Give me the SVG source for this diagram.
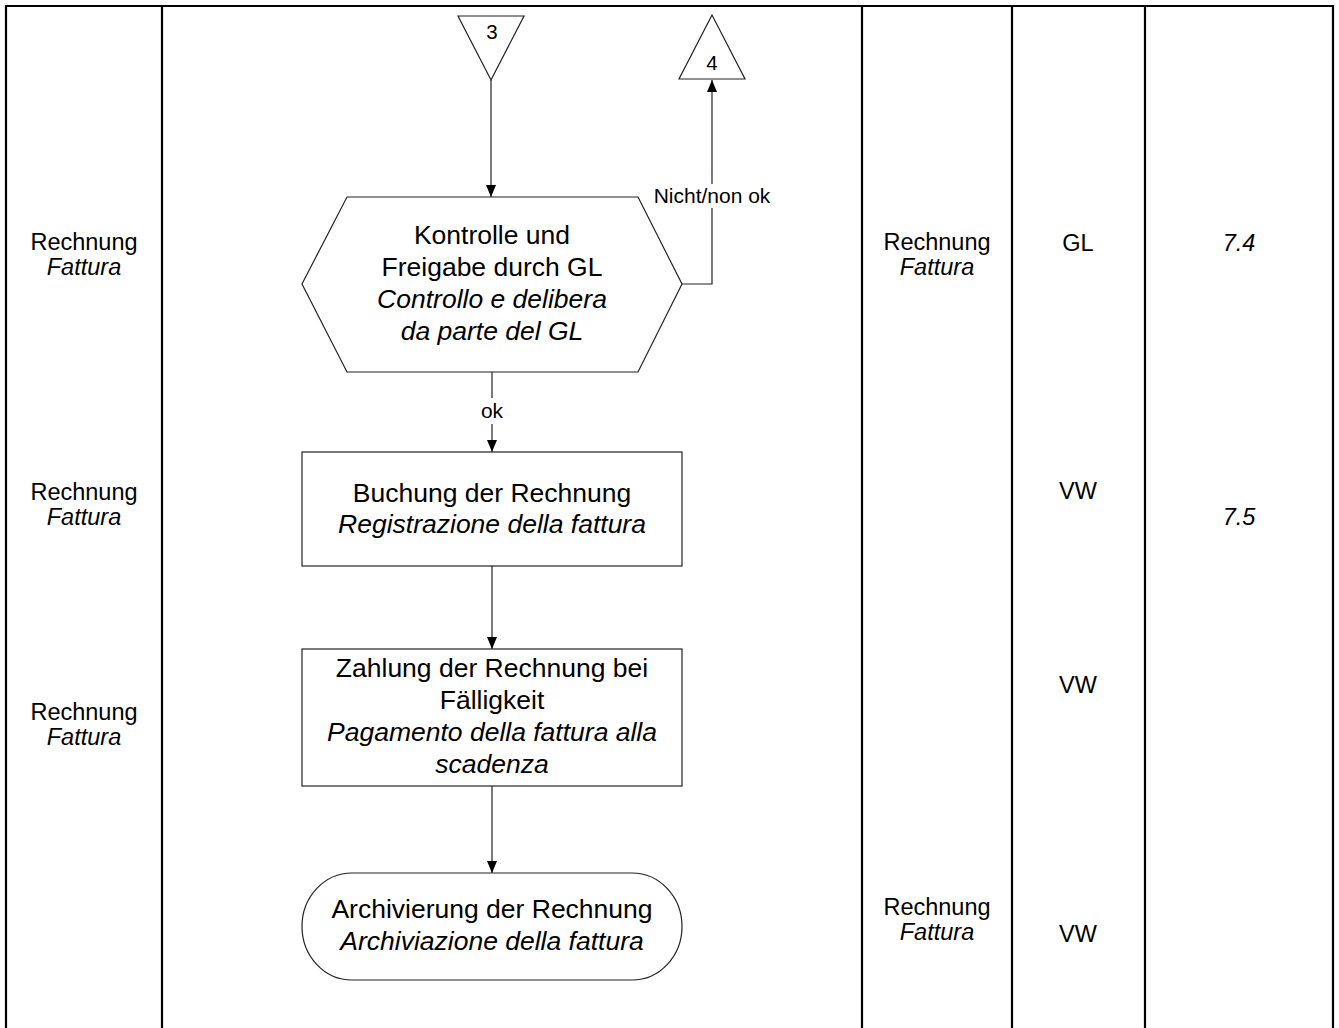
<svg xmlns="http://www.w3.org/2000/svg" width="1339" height="1028" viewBox="0 0 1339 1028">
<style>
  text { font-family: "Liberation Sans", Arial, sans-serif; fill: #000; }
  .main { font-size: 26.5px; text-anchor: middle; }
  .side { font-size: 23.5px; text-anchor: middle; }
  .lbl { font-size: 21px; text-anchor: middle; }
  .num { font-size: 20.5px; text-anchor: middle; }
  .it { font-style: italic; }
  .shape { fill: #fff; stroke: #222; stroke-width: 1.2; }
  .frame { stroke: #000; stroke-width: 2.2; fill: none; }
  .conn { stroke: #222; stroke-width: 1.2; fill: none; }
</style>
<defs>
  <marker id="arr" markerUnits="userSpaceOnUse" viewBox="0 0 12 10" refX="12" refY="5" markerWidth="12" markerHeight="10" orient="auto">
    <path d="M0,0 L12,5 L0,10 z" fill="#000"/>
  </marker>
</defs>
<rect width="1339" height="1028" fill="#fff"/>

<g id="frame">
  <line class="frame" x1="5" y1="6" x2="1334" y2="6"/>
  <line class="frame" x1="6" y1="5" x2="6" y2="1028"/>
  <line class="frame" x1="162" y1="5" x2="162" y2="1028"/>
  <line class="frame" x1="862" y1="5" x2="862" y2="1028"/>
  <line class="frame" x1="1012" y1="5" x2="1012" y2="1028"/>
  <line class="frame" x1="1145" y1="5" x2="1145" y2="1028"/>
  <line class="frame" x1="1333" y1="5" x2="1333" y2="1028"/>
</g>

<g id="connectors">
  <line class="conn" x1="491" y1="80" x2="491" y2="197" marker-end="url(#arr)"/>
  <polyline class="conn" points="682,284 712,284 712,80" marker-end="url(#arr)"/>
  <rect x="650" y="184" width="124" height="24" fill="#fff"/>
  <text class="lbl" x="712" y="203">Nicht/non ok</text>
  <line class="conn" x1="492" y1="372" x2="492" y2="452" marker-end="url(#arr)"/>
  <rect x="478" y="398" width="28" height="26" fill="#fff"/>
  <text class="lbl" x="492" y="418">ok</text>
  <line class="conn" x1="492" y1="566" x2="492" y2="649" marker-end="url(#arr)"/>
  <line class="conn" x1="492" y1="786" x2="492" y2="873" marker-end="url(#arr)"/>
</g>

<g id="connector3">
  <polygon class="shape" points="458,16 524,16 491,80"/>
  <text class="num" x="492" y="39">3</text>
</g>

<g id="connector4">
  <polygon class="shape" points="712,15 679,79 745,79"/>
  <text class="num" x="712" y="70">4</text>
</g>

<g id="decision">
  <polygon class="shape" points="347,197 638,197 682,284 638,372 347,372 302,284"/>
  <text class="main" x="492" y="244">Kontrolle und</text>
  <text class="main" x="492" y="276">Freigabe durch GL</text>
  <text class="main it" x="492" y="308">Controllo e delibera</text>
  <text class="main it" x="492" y="340">da parte del GL</text>
</g>

<g id="booking">
  <rect class="shape" x="302" y="452" width="380" height="114"/>
  <text class="main" x="492" y="502">Buchung der Rechnung</text>
  <text class="main it" x="492" y="533">Registrazione della fattura</text>
</g>

<g id="payment">
  <rect class="shape" x="302" y="649" width="380" height="137"/>
  <text class="main" x="492" y="677">Zahlung der Rechnung bei</text>
  <text class="main" x="492" y="709">Fälligkeit</text>
  <text class="main it" x="492" y="741">Pagamento della fattura alla</text>
  <text class="main it" x="492" y="773">scadenza</text>
</g>

<g id="archive">
  <rect class="shape" x="302" y="873" width="380" height="107" rx="50" ry="53.5"/>
  <text class="main" x="492" y="918">Archivierung der Rechnung</text>
  <text class="main it" x="492" y="950">Archiviazione della fattura</text>
</g>

<g id="input-col">
  <text class="side" x="84" y="250">Rechnung</text>
  <text class="side it" x="84" y="275">Fattura</text>
  <text class="side" x="84" y="500">Rechnung</text>
  <text class="side it" x="84" y="525">Fattura</text>
  <text class="side" x="84" y="720">Rechnung</text>
  <text class="side it" x="84" y="745">Fattura</text>
</g>

<g id="output-col">
  <text class="side" x="937" y="250">Rechnung</text>
  <text class="side it" x="937" y="275">Fattura</text>
  <text class="side" x="937" y="915">Rechnung</text>
  <text class="side it" x="937" y="940">Fattura</text>
</g>

<g id="resp-col">
  <text class="side" x="1078" y="251">GL</text>
  <text class="side" x="1078" y="499">VW</text>
  <text class="side" x="1078" y="693">VW</text>
  <text class="side" x="1078" y="942">VW</text>
</g>

<g id="ref-col">
  <text class="side it" x="1239" y="251">7.4</text>
  <text class="side it" x="1239" y="525">7.5</text>
</g>
</svg>
